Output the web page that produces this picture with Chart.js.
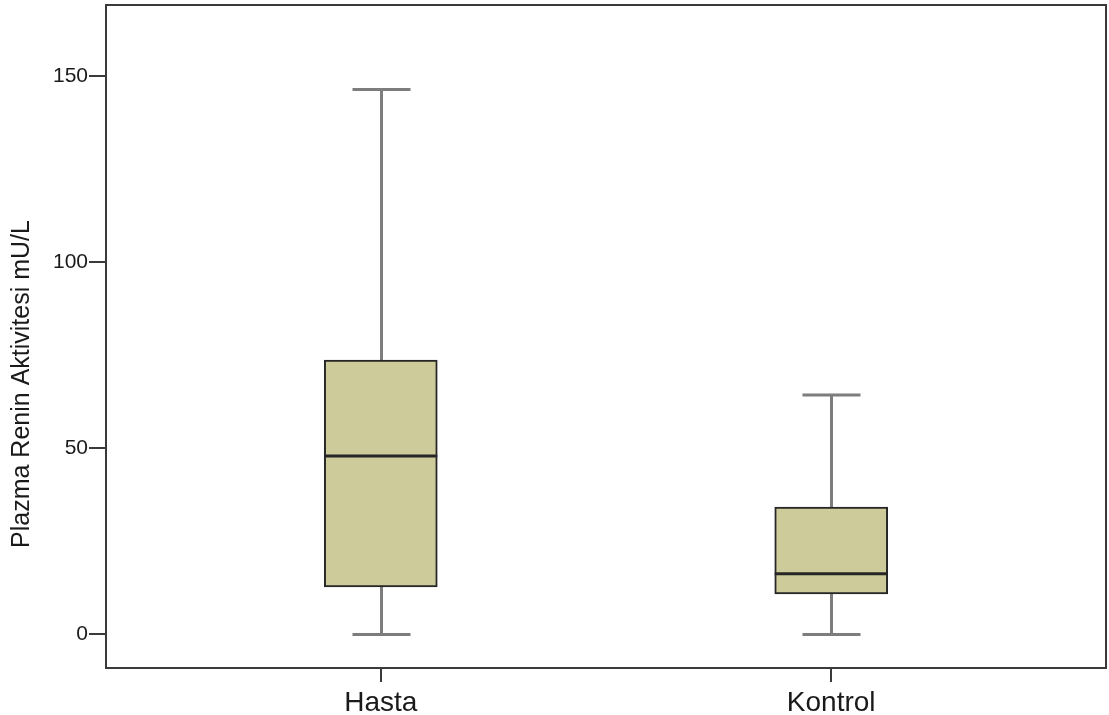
<!DOCTYPE html>
<html>
<head>
<meta charset="utf-8">
<script src="https://cdn.jsdelivr.net/npm/chart.js@4"></script>
<style>
  html, body { margin: 0; padding: 0; background: #fff; }
  #wrap { width: 1109px; height: 715px; }
</style>
</head>
<body>
<div id="wrap"><canvas id="c" width="1109" height="715"></canvas></div>
<script>
// Groups and five-number summaries (mU/L)
const groups = ['Hasta', 'Kontrol'];
const whiskerLow = [0, 0];
const quartile1 = [12.8, 10.9];
const medians = [47.9, 16.3];
const quartile3 = [73.7, 34.2];
const whiskerHigh = [146.3, 64.3];
const yTicks = [0, 50, 100, 150];
const yTitle = 'Plazma Renin Aktivitesi mU/L';

const FONT = '"Liberation Sans", Arial, sans-serif';
const BOX_FILL = '#cccb99';
const BOX_EDGE = '#262626';
const WHISKER = '#7d7d7d';
const FRAME = '#3a3a3a';

// boxes as floating bars placed at x = 1, 2
const boxData = groups.map((g, i) => ({ x: i + 1, y: [quartile1[i], quartile3[i]] }));

function noScalePadding(scale) {
  scale.paddingTop = 0;
  scale.paddingBottom = 0;
  scale.paddingLeft = 0;
  scale.paddingRight = 0;
}

const boxPlotExtras = {
  id: 'boxPlotExtras',
  beforeDatasetsDraw(chart) {
    const { ctx, scales: { x, y } } = chart;
    ctx.save();
    ctx.strokeStyle = WHISKER;
    ctx.lineWidth = 3;
    ctx.lineCap = 'butt';
    groups.forEach((g, i) => {
      const cx = Math.round(x.getPixelForValue(i + 1)) + 0.5;
      const capHalf = 29;
      // upper whisker
      ctx.beginPath();
      ctx.moveTo(cx, y.getPixelForValue(quartile3[i]));
      ctx.lineTo(cx, y.getPixelForValue(whiskerHigh[i]));
      ctx.moveTo(cx - capHalf, y.getPixelForValue(whiskerHigh[i]));
      ctx.lineTo(cx + capHalf, y.getPixelForValue(whiskerHigh[i]));
      // lower whisker
      ctx.moveTo(cx, y.getPixelForValue(quartile1[i]));
      ctx.lineTo(cx, y.getPixelForValue(whiskerLow[i]));
      ctx.moveTo(cx - capHalf, y.getPixelForValue(whiskerLow[i]));
      ctx.lineTo(cx + capHalf, y.getPixelForValue(whiskerLow[i]));
      ctx.stroke();
    });
    ctx.restore();
  },
  afterDatasetsDraw(chart) {
    const { ctx, scales: { y } } = chart;
    const meta = chart.getDatasetMeta(0);
    ctx.save();
    ctx.strokeStyle = BOX_EDGE;
    ctx.lineWidth = 3;
    groups.forEach((g, i) => {
      const bar = meta.data[i];
      const half = bar.width / 2;
      const my = y.getPixelForValue(medians[i]);
      ctx.beginPath();
      ctx.moveTo(bar.x - half, my);
      ctx.lineTo(bar.x + half, my);
      ctx.stroke();
    });
    // frame around plot area
    const a = chart.chartArea;
    ctx.strokeStyle = FRAME;
    ctx.lineWidth = 2;
    ctx.strokeRect(a.left, a.top, a.right - a.left, a.bottom - a.top);
    // y axis title
    ctx.fillStyle = '#1a1a1a';
    ctx.font = '25px ' + FONT;
    ctx.textAlign = 'center';
    ctx.textBaseline = 'middle';
    ctx.translate(22, 384);
    ctx.rotate(-Math.PI / 2);
    ctx.fillText(yTitle, 0, 0);
    ctx.restore();
  }
};

new Chart(document.getElementById('c'), {
  type: 'bar',
  data: {
    datasets: [{
      data: boxData,
      backgroundColor: BOX_FILL,
      borderColor: BOX_EDGE,
      borderWidth: 2,
      borderSkipped: false,
      barThickness: 113
    }]
  },
  options: {
    responsive: false,
    animation: false,
    layout: { padding: { left: 0, top: 5, right: 3, bottom: 0 } },
    plugins: { legend: { display: false }, tooltip: { enabled: false } },
    scales: {
      x: {
        type: 'linear',
        min: 0.39,
        max: 2.61,
        offset: false,
        afterBuildTicks(scale) { scale.ticks = groups.map((g, i) => ({ value: i + 1 })); },
        afterFit(scale) { scale.height = 47; noScalePadding(scale); },
        ticks: {
          callback: (v) => groups[v - 1],
          color: '#1a1a1a',
          font: { family: FONT, size: 28 },
          padding: 4,
          maxRotation: 0,
          autoSkip: false
        },
        grid: { offset: false, drawOnChartArea: false, tickLength: 14, color: FRAME, lineWidth: 2 },
        border: { color: FRAME, width: 2 }
      },
      y: {
        min: -9,
        max: 169,
        afterBuildTicks(scale) { scale.ticks = yTicks.map(v => ({ value: v })); },
        afterFit(scale) { scale.width = 106; noScalePadding(scale); },
        ticks: {
          color: '#1a1a1a',
          font: { family: FONT, size: 21 },
          padding: 1
        },
        grid: { drawOnChartArea: false, tickLength: 17, color: FRAME, lineWidth: 2 },
        border: { color: FRAME, width: 2 }
      }
    }
  },
  plugins: [boxPlotExtras]
});
</script>
</body>
</html>
